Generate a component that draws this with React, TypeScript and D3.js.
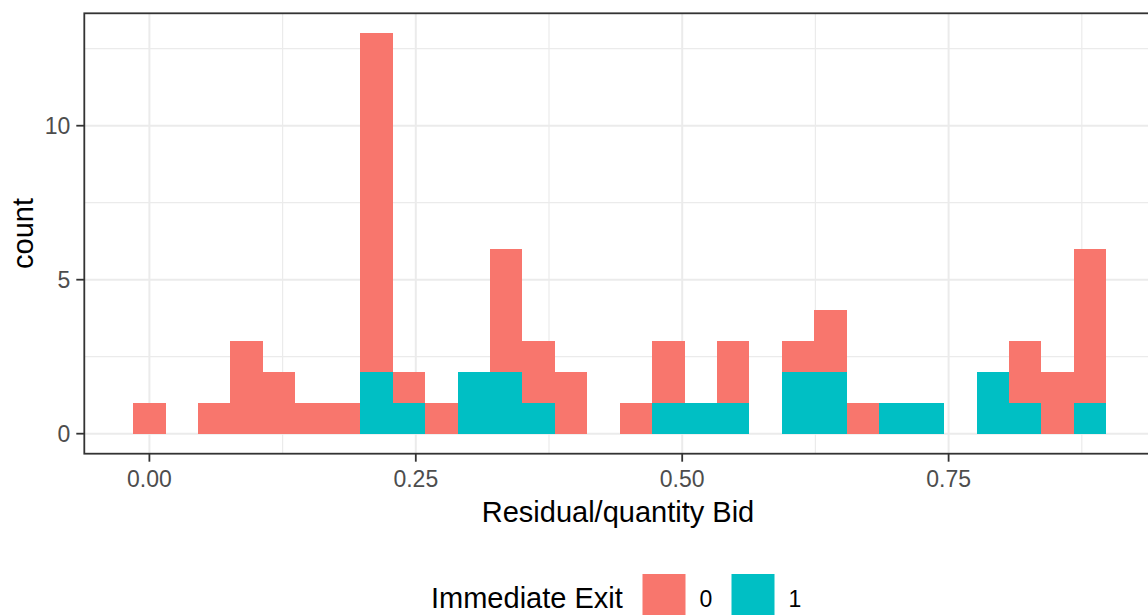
import React from 'react';
import * as d3 from 'd3';

// histogram counts per bin (30 bins, first bin centred at 0)
const BIN_WIDTH = 0.03044;
const BIN_COUNT = 30;
const EXIT_0 = [1, 0, 1, 3, 2, 1, 1, 11, 1, 1, 0, 4, 2, 2, 0, 1, 2, 0, 2, 0, 1, 2, 1, 0, 0, 0, 0, 2, 2, 5];
const EXIT_1 = [0, 0, 0, 0, 0, 0, 0, 2, 1, 0, 2, 2, 1, 0, 0, 0, 1, 1, 1, 0, 2, 2, 0, 1, 1, 0, 2, 1, 0, 1];
const GROUPS = ['0', '1'];
const COLORS = ['#F8766D', '#00BFC4'];
const X_TICKS = [0, 0.25, 0.5, 0.75];
const X_MINOR = [0.125, 0.375, 0.625, 0.875];
const Y_TICKS = [0, 5, 10];
const Y_MINOR = [2.5, 7.5, 12.5];

const W = 1148;
const H = 615;
const panel = { left: 84.3, right: 1159, top: 13.3, bottom: 453.7 };

export default function App() {
  const edges = d3.range(BIN_COUNT).map(i => i * BIN_WIDTH - BIN_WIDTH / 2);
  // x scale pinned so 0 and 0.25 land where the reference puts them
  const x = d3.scaleLinear().domain([0, 0.25]).range([149.4, 415.8]);
  const totals = EXIT_0.map((v, i) => v + EXIT_1[i]);
  const yMax = d3.max(totals) ?? 13;
  const y = d3.scaleLinear().domain([-yMax * 0.05, yMax * 1.05]).range([panel.bottom, panel.top]);

  // teal ("1") stacked at the bottom, red ("0") on top, like ggplot
  const bars: { x0: number; x1: number; y0: number; y1: number; fill: string }[] = [];
  edges.forEach((e, i) => {
    const b1 = EXIT_1[i];
    const b0 = EXIT_0[i];
    if (b1 > 0) bars.push({ x0: e, x1: e + BIN_WIDTH, y0: 0, y1: b1, fill: COLORS[1] });
    if (b0 > 0) bars.push({ x0: e, x1: e + BIN_WIDTH, y0: b1, y1: b1 + b0, fill: COLORS[0] });
  });

  const font = 'Liberation Sans, Arial, sans-serif';
  const pw = panel.right - panel.left;
  const ph = panel.bottom - panel.top;

  return (
    <svg width={W} height={H} style={{ position: 'absolute', left: 0, top: 0, background: '#fff' }} fontFamily={font}>
      <defs>
        <clipPath id="panelClip">
          <rect x={panel.left} y={panel.top} width={pw} height={ph} />
        </clipPath>
      </defs>
      <rect x={0} y={0} width={W} height={H} fill="#fff" />
      <g clipPath="url(#panelClip)">
        {Y_MINOR.map(t => (
          <line key={'ym' + t} x1={panel.left} x2={panel.right} y1={y(t)} y2={y(t)} stroke="#EBEBEB" strokeWidth={1.2} />
        ))}
        {X_MINOR.map(t => (
          <line key={'xm' + t} x1={x(t)} x2={x(t)} y1={panel.top} y2={panel.bottom} stroke="#EBEBEB" strokeWidth={1.2} />
        ))}
        {Y_TICKS.map(t => (
          <line key={'yg' + t} x1={panel.left} x2={panel.right} y1={y(t)} y2={y(t)} stroke="#EBEBEB" strokeWidth={2} />
        ))}
        {X_TICKS.map(t => (
          <line key={'xg' + t} x1={x(t)} x2={x(t)} y1={panel.top} y2={panel.bottom} stroke="#EBEBEB" strokeWidth={2} />
        ))}
        <g shapeRendering="crispEdges">
          {bars.map((b, i) => (
            <rect key={i} x={x(b.x0)} y={y(b.y1)} width={x(b.x1) - x(b.x0)} height={y(b.y0) - y(b.y1)} fill={b.fill} />
          ))}
        </g>
      </g>
      <rect x={panel.left} y={panel.top} width={pw} height={ph} fill="none" stroke="#333333" strokeWidth={1.8} />

      {Y_TICKS.map(t => (
        <g key={'yt' + t}>
          <line x1={panel.left - 8} x2={panel.left} y1={y(t)} y2={y(t)} stroke="#333333" strokeWidth={1.8} />
          <text x={panel.left - 14} y={y(t) + 8.5} textAnchor="end" fontSize={23} fill="#4D4D4D">{t}</text>
        </g>
      ))}
      {X_TICKS.map(t => (
        <g key={'xt' + t}>
          <line x1={x(t)} x2={x(t)} y1={panel.bottom} y2={panel.bottom + 8} stroke="#333333" strokeWidth={1.8} />
          <text x={x(t)} y={487} textAnchor="middle" fontSize={23} fill="#4D4D4D">{d3.format('.2f')(t)}</text>
        </g>
      ))}

      <text x={618} y={522} textAnchor="middle" fontSize={29} fill="#000">Residual/quantity Bid</text>
      <text transform={`translate(33,${(panel.top + panel.bottom) / 2}) rotate(-90)`} textAnchor="middle" fontSize={29} fill="#000">count</text>

      <g>
        <text x={431} y={608} fontSize={29} fill="#000">Immediate Exit</text>
        {GROUPS.map((g, i) => {
          const kx = 641.5 + i * 89;
          return (
            <g key={g}>
              <rect x={kx} y={573} width={45} height={45} fill="#fff" />
              <rect x={kx + 1} y={574} width={43} height={43} fill={COLORS[i]} />
              <text x={kx + 58} y={607} fontSize={23} fill="#000">{g}</text>
            </g>
          );
        })}
      </g>
    </svg>
  );
}
